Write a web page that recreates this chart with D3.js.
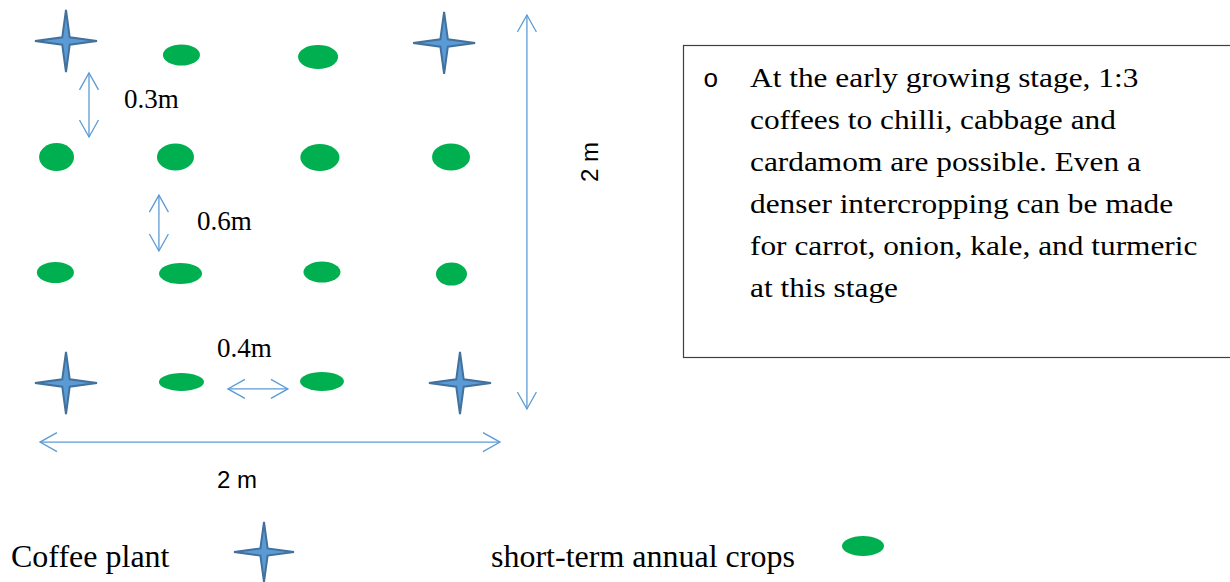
<!DOCTYPE html>
<html>
<head>
<meta charset="utf-8">
<script src="https://cdn.jsdelivr.net/npm/d3@7"></script>
<style>
  body { margin: 0; background: #fff; }
  svg { display: block; }
</style>
</head>
<body>
<div id="chart"></div>
<script>
// plot layout in metres (2 m x 2 m block)
var coffeeX = [0.113, 1.757, 0.113, 1.826];
var coffeeY = [0.132, 0.142, 1.868, 1.868];

var cropX = [0.615, 1.209,
             0.072, 0.589, 1.217, 1.787,
             0.067, 0.611, 1.226, 1.789,
             0.615, 1.226];
var cropY = [0.203, 0.213,
             0.721, 0.721, 0.723, 0.721,
             1.307, 1.312, 1.305, 1.315,
             1.863, 1.860];
// canopy width / height of each crop, metres
var cropW = [0.161, 0.174,
             0.152, 0.161, 0.170, 0.165,
             0.161, 0.187, 0.161, 0.135,
             0.196, 0.191];
var cropH = [0.107, 0.122,
             0.142, 0.137, 0.137, 0.137,
             0.107, 0.107, 0.107, 0.117,
             0.091, 0.096];

// spacing annotations
var dimLabels = ["0.3m", "0.6m", "0.4m", "2 m", "2 m"];
var dimX1 = [0.213, 0.517, 0.817, 2.117, 0.000];
var dimY1 = [0.294, 0.914, 1.898, 0.000, 2.168];
var dimX2 = [0.213, 0.517, 1.078, 2.117, 2.000];
var dimY2 = [0.619, 1.198, 1.898, 2.000, 2.168];

var noteLines = [
  "At the early growing stage, 1:3",
  "coffees to chilli, cabbage and",
  "cardamom are possible. Even a",
  "denser intercropping can be made",
  "for carrot, onion, kale, and turmeric",
  "at this stage"
];

var legendLabels = ["Coffee plant", "short-term annual crops"];

var width = 1230, height = 582;
var blue = "#5b9bd5", blueDark = "#41719c", green = "#00b050";
var serif = "Liberation Serif, Times New Roman, serif";
var sans = "Liberation Sans, Arial, sans-serif";

var svg = d3.select("#chart").append("svg")
    .attr("width", width)
    .attr("height", height);

var x = d3.scaleLinear().domain([0, 2]).range([40, 500]);
var y = d3.scaleLinear().domain([0, 2]).range([15, 409]);

// 4-pointed star
function starPath(R) {
  var r = R * 0.17, pts = [];
  for (var i = 0; i < 8; i++) {
    var a = -Math.PI / 2 + i * Math.PI / 4;
    var rr = i % 2 === 0 ? R : r;
    pts.push([Math.cos(a) * rr, Math.sin(a) * rr]);
  }
  return d3.line()(pts) + "Z";
}

// crops
svg.append("g").selectAll("ellipse")
    .data(d3.range(cropX.length))
    .enter().append("ellipse")
    .attr("cx", function (i) { return x(cropX[i]); })
    .attr("cy", function (i) { return y(cropY[i]); })
    .attr("rx", function (i) { return (x(cropW[i]) - x(0)) / 2; })
    .attr("ry", function (i) { return (y(cropH[i]) - y(0)) / 2; })
    .attr("fill", green);

// coffee plants
svg.append("g").selectAll("path")
    .data(d3.range(coffeeX.length))
    .enter().append("path")
    .attr("transform", function (i) { return "translate(" + x(coffeeX[i]) + "," + y(coffeeY[i]) + ")"; })
    .attr("d", starPath(31))
    .attr("fill", blue)
    .attr("stroke", blueDark)
    .attr("stroke-width", 2);

// double headed open arrows
function arrowHead(g, px, py, ang) {
  var L = 17, W = 9.5;
  var ca = Math.cos(ang), sa = Math.sin(ang);
  var p1 = [px - L * ca + W * sa, py - L * sa - W * ca];
  var p2 = [px - L * ca - W * sa, py - L * sa + W * ca];
  g.append("path")
    .attr("d", d3.line()([p1, [px, py], p2]))
    .attr("fill", "none")
    .attr("stroke", blue)
    .attr("stroke-width", 1.3);
}

var dims = svg.append("g");
// label placement relative to each arrow's midpoint
var labelPos = [
  { dx: 35, dy: 3, anchor: "start", font: serif, size: 27, rot: false },
  { dx: 38, dy: 7, anchor: "start", font: serif, size: 27, rot: false },
  { dx: -41, dy: -32, anchor: "start", font: serif, size: 27, rot: false },
  { dx: 63, dy: -50, anchor: "middle", font: sans, size: 24, rot: true },
  { dx: -33, dy: 46, anchor: "middle", font: sans, size: 24, rot: false }
];

dimLabels.forEach(function (lab, i) {
  var x1 = x(dimX1[i]), y1 = y(dimY1[i]), x2 = x(dimX2[i]), y2 = y(dimY2[i]);
  var g = dims.append("g");
  g.append("line")
    .attr("x1", x1).attr("y1", y1).attr("x2", x2).attr("y2", y2)
    .attr("stroke", blue)
    .attr("stroke-width", 1.3);
  var ang = Math.atan2(y2 - y1, x2 - x1);
  arrowHead(g, x2, y2, ang);
  arrowHead(g, x1, y1, ang + Math.PI);

  var o = labelPos[i];
  var mx = (x1 + x2) / 2, my = (y1 + y2) / 2;
  var t = g.append("text")
    .text(lab)
    .attr("font-family", o.font)
    .attr("font-size", o.size)
    .attr("text-anchor", o.anchor)
    .attr("fill", "#000");
  if (o.rot) {
    t.attr("transform", "translate(" + (mx + o.dx) + "," + (my + o.dy) + ") rotate(-90)")
      .attr("dy", "0.35em");
  } else if (i === 2) {
    t.attr("x", x1 + o.dx + 30).attr("y", my + o.dy);
  } else {
    t.attr("x", mx + o.dx).attr("y", my + o.dy);
  }
});

// note box
var note = svg.append("g");
note.append("rect")
  .attr("x", 683.5).attr("y", 45.5)
  .attr("width", 600).attr("height", 312)
  .attr("fill", "#fff")
  .attr("stroke", "#404040")
  .attr("stroke-width", 1.2);
note.append("text")
  .attr("x", 703).attr("y", 87)
  .attr("font-family", "Liberation Mono, Courier New, monospace")
  .attr("font-size", 26)
  .text("o");
note.append("g")
  .attr("transform", "translate(750,0) scale(1.12,1)")
  .selectAll("text")
  .data(noteLines)
  .enter().append("text")
  .attr("x", 0)
  .attr("y", function (d, i) { return 87 + i * 42; })
  .attr("font-family", serif)
  .attr("font-size", 28)
  .attr("fill", "#000")
  .text(function (d) { return d; });

// legend
var legend = svg.append("g");
legend.append("text")
  .attr("x", 11).attr("y", 567)
  .attr("font-family", serif)
  .attr("font-size", 32)
  .text(legendLabels[0]);
legend.append("path")
  .attr("transform", "translate(264,552)")
  .attr("d", starPath(30))
  .attr("fill", blue)
  .attr("stroke", blueDark)
  .attr("stroke-width", 2);
legend.append("text")
  .attr("x", 491).attr("y", 567)
  .attr("font-family", serif)
  .attr("font-size", 32)
  .text(legendLabels[1]);
legend.append("ellipse")
  .attr("cx", 863).attr("cy", 546)
  .attr("rx", 21).attr("ry", 10)
  .attr("fill", green);
</script>
</body>
</html>
